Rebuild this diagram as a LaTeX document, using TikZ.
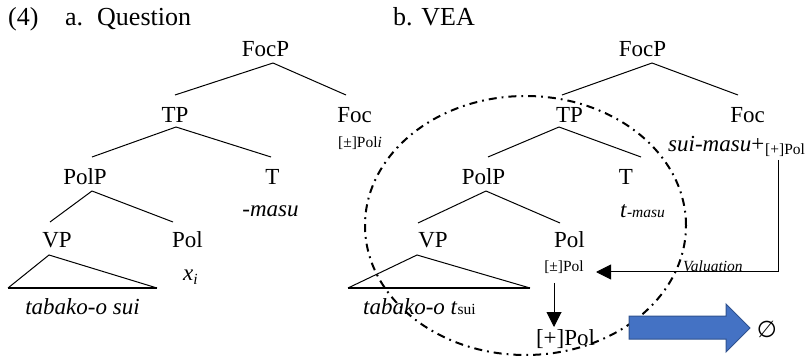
\documentclass[tikz,border=0pt]{standalone}
\usepackage{fontspec}
\setmainfont{Liberation Serif}
\newfontfamily\symbolfont{DejaVu Sans}
\usetikzlibrary{arrows.meta}
\definecolor{arrowblue}{RGB}{68,114,196}
\definecolor{arrowedge}{RGB}{47,82,143}
\newcommand{\smallfs}{\fontsize{15.5}{18}\selectfont}
\begin{document}
\begin{tikzpicture}[x=1pt,y=-1pt,
  head/.style={font=\fontsize{26}{30}\selectfont, inner sep=0pt, anchor=base west},
  big/.style={font=\fontsize{23}{26}\selectfont, inner sep=0pt, anchor=base},
  small/.style={font=\smallfs, inner sep=0pt, anchor=base},
  branch/.style={line width=1pt},
  basebar/.style={line width=2pt},
  valarrow/.style={line width=1pt, -{Triangle[length=15pt,width=15pt]}},
  focusring/.style={line width=2pt, dash pattern=on 8pt off 5pt on 1.8pt off 5pt}]
\useasboundingbox (0,0) rectangle (809,358);

% headings
\node[head] (num) at (8,26) {(4)};
\node[head] (la) at (65,26) {a.};
\node[head] (lq) at (97,26) {Question};
\node[head] (lb) at (393,26) {b. VEA};

% ---- (a) Question tree
\node[big] (aFocP) at (265.5,57) {FocP};
\node[big] (aTP) at (175,123) {TP};
\node[big] (aFoc) at (354.5,123) {Foc};
\node[small] (aFeat) at (360,148) {[±]Pol\textit{i}};
\node[big] (aPolP) at (85,185) {PolP};
\node[big] (aT) at (272.5,185) {T};
\node[big] (aMasu) at (270.5,217) {\textit{-masu}};
\node[big] (aVP) at (57,248) {VP};
\node[big] (aPol) at (187.5,248) {Pol};
\node[big, anchor=base west] (aX) at (183,280) {\textit{x}\raisebox{-4pt}{\smallfs\itshape i}};
\node[big] (aYield) at (82.5,314) {\textit{tabako-o sui}};

\draw[branch] ([shift={(7.5,6)}]aFocP.base) -- ([shift={(0,-28)}]aTP.base);
\draw[branch] ([shift={(7.5,6)}]aFocP.base) -- ([shift={(-8.5,-28)}]aFoc.base);
\draw[branch] ([shift={(1,4)}]aTP.base) -- ([shift={(7,-28)}]aPolP.base);
\draw[branch] ([shift={(1,4)}]aTP.base) -- ([shift={(-1.5,-28)}]aT.base);
\draw[branch] ([shift={(7,6)}]aPolP.base) -- ([shift={(-7,-26)}]aVP.base);
\draw[branch] ([shift={(7,6)}]aPolP.base) -- ([shift={(-14.5,-26)}]aPol.base);
\draw[branch] ([shift={(-49,40)}]aVP.base) -- ([shift={(-8,7)}]aVP.base) -- ([shift={(100,40)}]aVP.base);
\draw[basebar] ([shift={(-49,40)}]aVP.base) -- ([shift={(100,40)}]aVP.base);

% ---- (b) VEA tree
\node[big] (bFocP) at (642.5,57) {FocP};
\node[big] (bTP) at (569.5,123) {TP};
\node[big] (bFoc) at (747.5,123) {Foc};
\node[big, anchor=base west] (bFw) at (668,152) {\textit{sui-masu}+};
\node[small, anchor=base west] (bFpol) at (765,155) {[+]Pol};
\node[big] (bPolP) at (483.5,185) {PolP};
\node[big] (bT) at (626,185) {T};
\node[big, anchor=base west] (bTm) at (620,218) {\textit{t}{\smallfs\itshape -masu}};
\node[big] (bVP) at (433,248) {VP};
\node[big] (bPol) at (569.5,248) {Pol};
\node[small] (bPmin) at (564,272) {[±]Pol};
\node[big] (bPlus) at (565.5,345) {[+]Pol};
\node[big, anchor=base west] (bYield) at (363,314) {\textit{tabako-o t}{\smallfs sui}};
\node[small, anchor=base west] (bVal) at (683,272) {\textit{Valuation}};

\draw[branch] ([shift={(9.5,6)}]bFocP.base) -- ([shift={(-7.5,-28)}]bTP.base);
\draw[branch] ([shift={(9.5,6)}]bFocP.base) -- ([shift={(-9.5,-28)}]bFoc.base);
\draw[branch] ([shift={(-10.5,4)}]bTP.base) -- ([shift={(4.5,-28)}]bPolP.base);
\draw[branch] ([shift={(-10.5,4)}]bTP.base) -- ([shift={(15,-28)}]bT.base);
\draw[branch] ([shift={(2.5,6)}]bPolP.base) -- ([shift={(-15,-25)}]bVP.base);
\draw[branch] ([shift={(2.5,6)}]bPolP.base) -- ([shift={(-9.5,-25)}]bPol.base);
\draw[branch] ([shift={(-85,40)}]bVP.base) -- ([shift={(-16,7)}]bVP.base) -- ([shift={(97,40)}]bVP.base);
\draw[basebar] ([shift={(-85,40)}]bVP.base) -- ([shift={(97,40)}]bVP.base);

% valuation of the polarity feature
\draw[valarrow] ([shift={(13,5)}]bFpol.base west) |- ([shift={(32,0)}]bPmin.base);
\draw[valarrow] ([shift={(-10,11)}]bPmin.base) -- ([shift={(-11.5,-18)}]bPlus.base);

% elided domain
\draw[focusring] (525.5,225.5) ellipse [x radius=160.5pt, y radius=129.5pt];

% block arrow to the empty set
\draw[fill=arrowblue, draw=arrowedge, line width=1pt]
  (629,316) -- (726,316) -- (726,304) -- (750,328) -- (726,352) -- (726,339) -- (629,339) -- cycle;
\node[font=\fontsize{23}{26}\symbolfont, inner sep=0pt, anchor=center] (empty) at (767,329) {∅};
\end{tikzpicture}
\end{document}
